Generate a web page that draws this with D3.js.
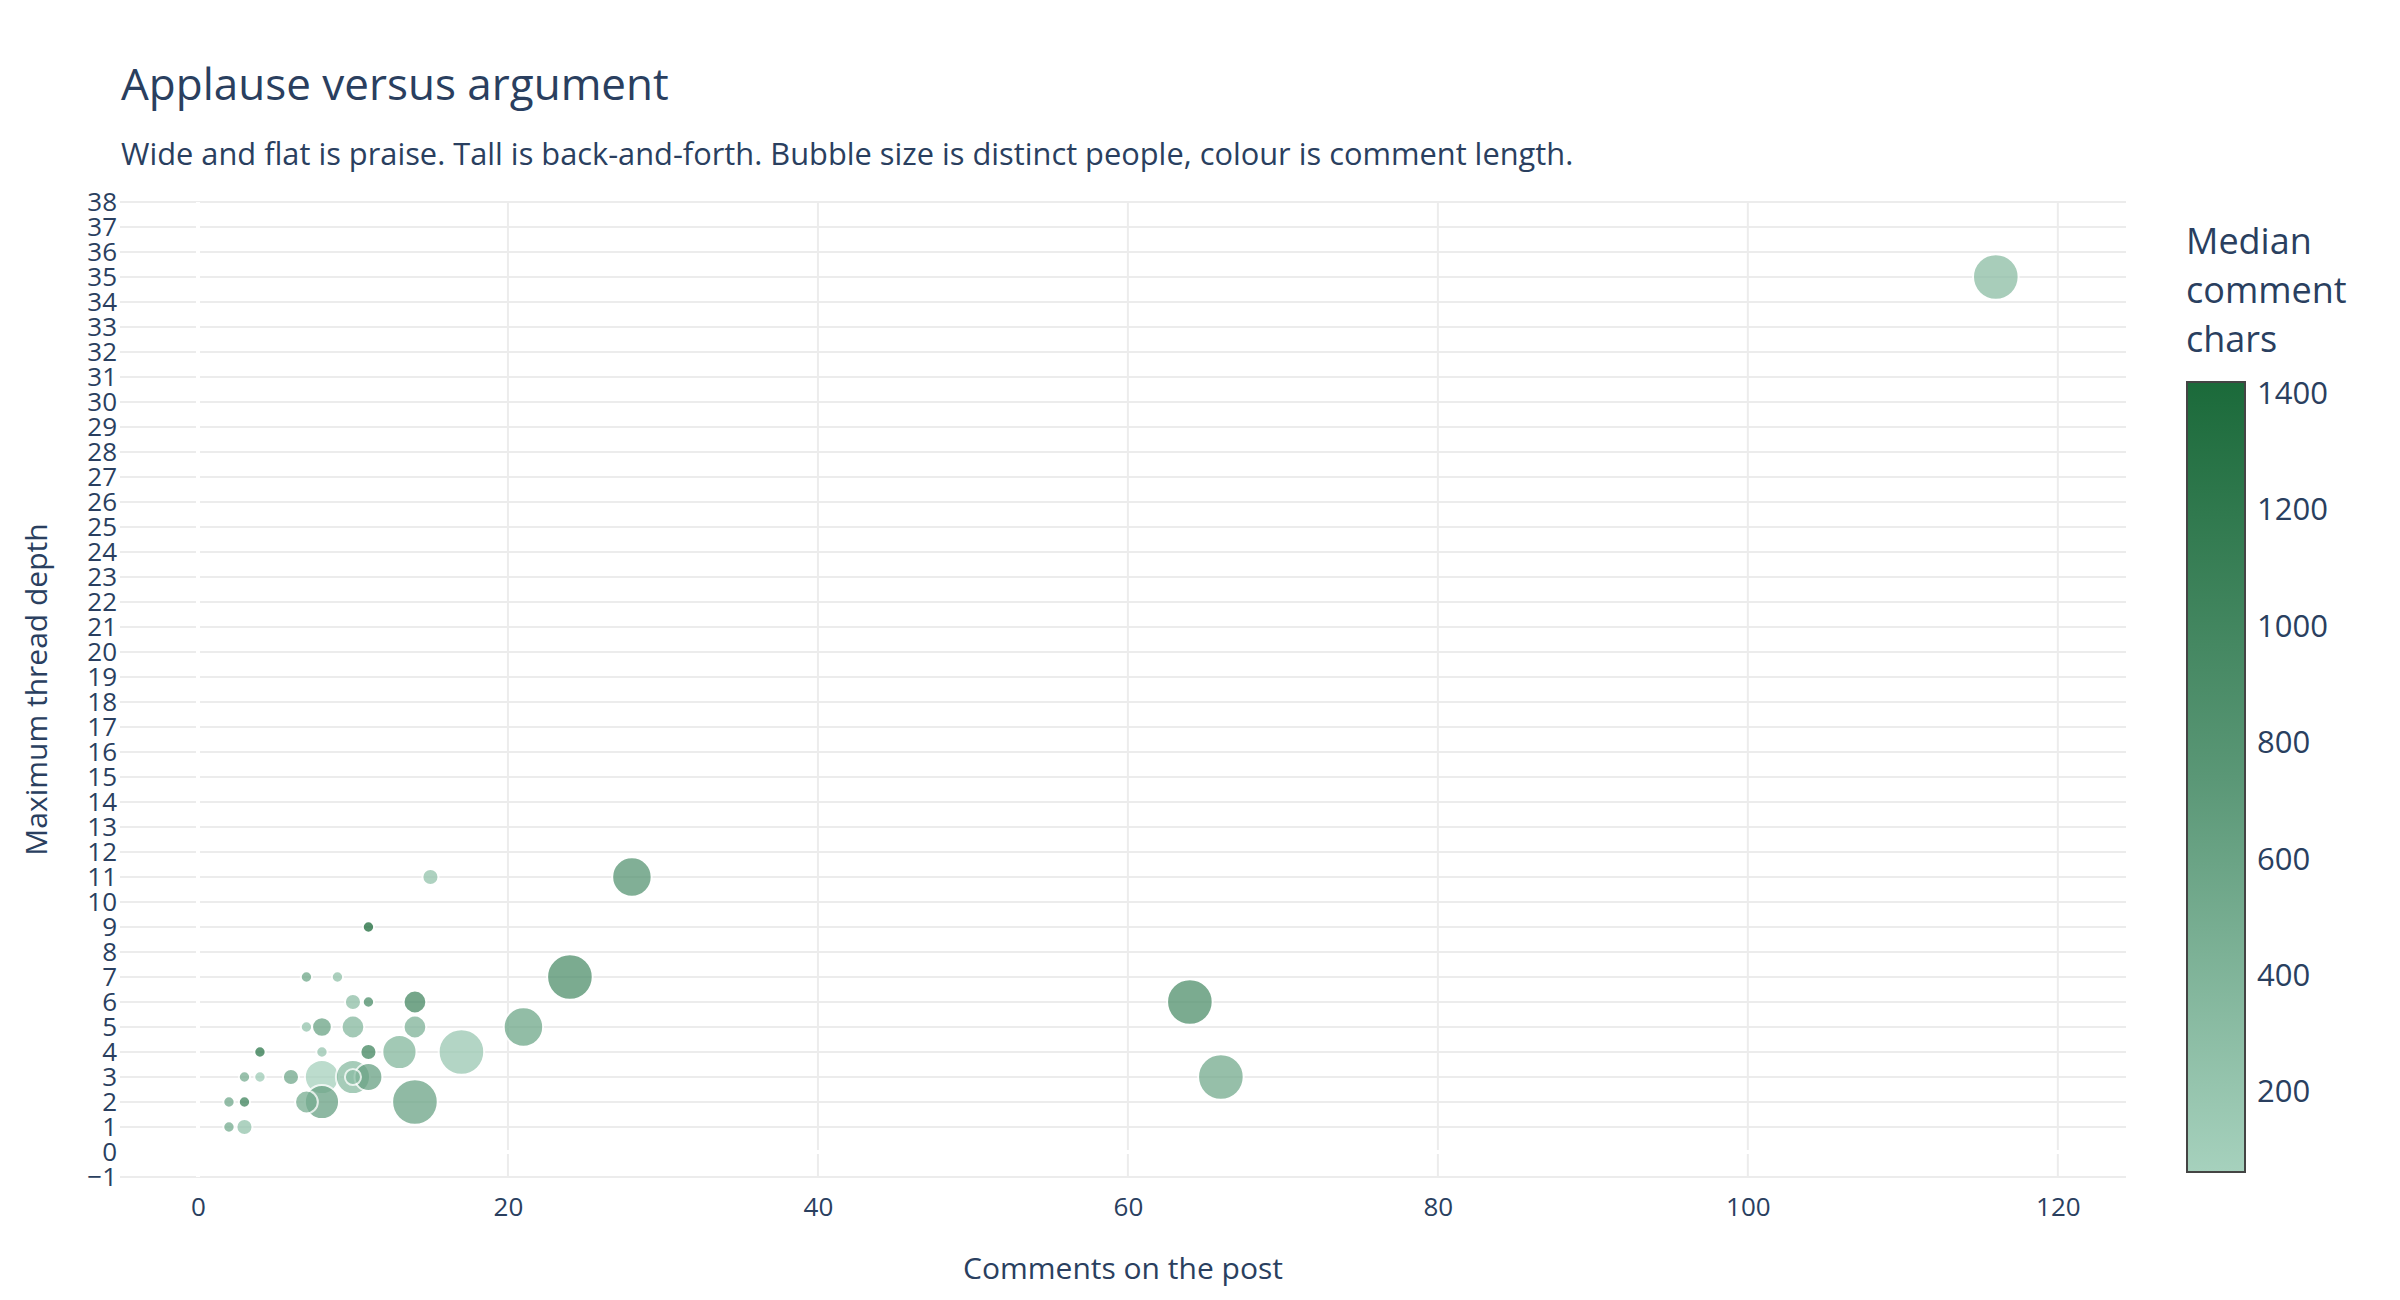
<!DOCTYPE html>
<html>
<head>
<meta charset="utf-8">
<script src="https://cdn.jsdelivr.net/npm/d3@7"></script>
<style>
  body { margin: 0; background: #fff; }
  text { font-family: "Open Sans", verdana, arial, sans-serif; fill: #2a3f5f; }
</style>
</head>
<body>
<div id="chart"></div>
<script>
// one bubble per post, in drawing order
var comments = [116, 64, 66, 28, 24, 21, 17, 14, 13, 15, 14, 14, 11, 7, 9, 10, 11, 7, 8, 10, 4, 8, 11, 3, 4, 6, 8, 10, 11, 10, 2, 3, 8, 7, 2, 3];
var depth    = [35, 6, 3, 11, 7, 5, 4, 2, 4, 11, 6, 5, 9, 7, 7, 6, 6, 5, 5, 5, 4, 4, 4, 3, 3, 3, 3, 3, 3, 3, 2, 2, 2, 2, 1, 1];
var people   = [16, 16, 16, 12, 16, 12, 16, 16, 9, 2, 4, 4, 1, 1, 1, 2, 1, 1, 3, 4, 1, 1, 2, 1, 1, 2, 9, 9, 6, 2, 1, 1, 9, 4, 1, 2];
var chars    = [300, 850, 520, 770, 860, 560, 170, 590, 370, 230, 950, 420, 1420, 560, 250, 280, 880, 220, 600, 360, 1230, 200, 1000, 480, 130, 540, 63, 320, 620, 300, 540, 1040, 620, 480, 500, 230];

var xTicks = [0, 20, 40, 60, 80, 100, 120];
var yTicks = d3.range(-1, 39);
var cbTicks = [200, 400, 600, 800, 1000, 1200, 1400];

var W = 2400, H = 1300;
var pLeft = 120, pRight = 2126, pTop = 202, pBottom = 1177;

var svg = d3.select('#chart').append('svg')
  .attr('width', W)
  .attr('height', H);

svg.append('rect').attr('width', W).attr('height', H).attr('fill', '#fff');

var x = d3.scaleLinear().domain([-5.03, 124.4]).range([pLeft, pRight]);
var y = d3.scaleLinear().domain([-1, 38]).range([pBottom, pTop]);
var r = d3.scaleSqrt().domain([0, d3.max(people)]).range([0, 22.8]);
var cExt = d3.extent(chars);
var color = d3.scaleLinear()
  .domain([cExt[0], cExt[0] + (cExt[1] - cExt[0]) * 0.5, cExt[1]])
  .range(['#a6d1bd', '#5a9776', '#1b6a3a']);

// grid
svg.append('g').selectAll('line')
  .data(yTicks.filter(function(d) { return d !== 0; }))
  .enter().append('line')
  .attr('x1', pLeft).attr('x2', pRight)
  .attr('y1', function(d) { return y(d); })
  .attr('y2', function(d) { return y(d); })
  .attr('stroke', '#ececec').attr('stroke-width', 2);

svg.append('g').selectAll('line')
  .data(xTicks.filter(function(d) { return d !== 0; }))
  .enter().append('line')
  .attr('y1', pTop).attr('y2', pBottom)
  .attr('x1', function(d) { return x(d); })
  .attr('x2', function(d) { return x(d); })
  .attr('stroke', '#ececec').attr('stroke-width', 2);

// zero lines
svg.append('line')
  .attr('x1', x(0)).attr('x2', x(0)).attr('y1', pTop).attr('y2', pBottom)
  .attr('stroke', '#fff').attr('stroke-width', 4);
svg.append('line')
  .attr('x1', pLeft).attr('x2', pRight).attr('y1', y(0)).attr('y2', y(0))
  .attr('stroke', '#fff').attr('stroke-width', 4);

// axes (labels only)
var xAxis = svg.append('g')
  .attr('transform', 'translate(0,' + (pBottom + 18) + ')')
  .call(d3.axisBottom(x).tickValues(xTicks).tickSize(0).tickFormat(d3.format('d')));
xAxis.select('.domain').remove();
xAxis.selectAll('text').style('font-size', '26px').attr('dy', '0.71em').attr('fill', '#2a3f5f');

var yAxis = svg.append('g')
  .attr('transform', 'translate(' + (pLeft - 3) + ',0)')
  .call(d3.axisLeft(y).tickValues(yTicks).tickSize(0).tickPadding(0).tickFormat(d3.format('d')));
yAxis.select('.domain').remove();
yAxis.selectAll('text').style('font-size', '26px').attr('fill', '#2a3f5f');

// bubbles
svg.append('g').selectAll('circle')
  .data(comments)
  .enter().append('circle')
  .attr('cx', function(d) { return x(d); })
  .attr('cy', function(d, i) { return y(depth[i]); })
  .attr('r', function(d, i) { return r(people[i]); })
  .attr('fill', function(d, i) { return color(chars[i]); })
  .attr('stroke', '#fff')
  .attr('stroke-width', 2)
  .attr('opacity', 0.75);

// titles
svg.append('text').attr('x', 121).attr('y', 100)
  .style('font-size', '44px').text('Applause versus argument');
svg.append('text').attr('x', 121).attr('y', 165)
  .style('font-size', '30.8px')
  .text('Wide and flat is praise. Tall is back-and-forth. Bubble size is distinct people, colour is comment length.');
svg.append('text').attr('x', (pLeft + pRight) / 2).attr('y', 1279)
  .attr('text-anchor', 'middle').style('font-size', '30px').text('Comments on the post');
svg.append('text')
  .attr('transform', 'translate(47,' + ((pTop + pBottom) / 2) + ') rotate(-90)')
  .attr('text-anchor', 'middle').style('font-size', '30px').text('Maximum thread depth');

// colour bar
var cbX = 2187, cbW = 58, cbTop = 382, cbBottom = 1172;
var cy = d3.scaleLinear().domain(cExt).range([cbBottom, cbTop]);

var grad = svg.append('defs').append('linearGradient')
  .attr('id', 'cbgrad').attr('x1', 0).attr('x2', 0).attr('y1', 1).attr('y2', 0);
grad.selectAll('stop')
  .data(color.domain())
  .enter().append('stop')
  .attr('offset', function(d) { return (d - cExt[0]) / (cExt[1] - cExt[0]); })
  .attr('stop-color', function(d) { return color(d); });

svg.append('rect')
  .attr('x', cbX).attr('y', cbTop).attr('width', cbW).attr('height', cbBottom - cbTop)
  .attr('fill', 'url(#cbgrad)')
  .attr('stroke', '#444').attr('stroke-width', 2);

svg.append('g').selectAll('text')
  .data(cbTicks)
  .enter().append('text')
  .attr('x', cbX + cbW + 12)
  .attr('y', function(d) { return cy(d) - 1; })
  .attr('dy', '0.36em')
  .style('font-size', '31px')
  .text(function(d) { return d; });

svg.append('g').selectAll('text')
  .data(['Median', 'comment', 'chars'])
  .enter().append('text')
  .attr('x', 2186)
  .attr('y', function(d, i) { return 254 + i * 49; })
  .style('font-size', '36px')
  .text(function(d) { return d; });
</script>
</body>
</html>
